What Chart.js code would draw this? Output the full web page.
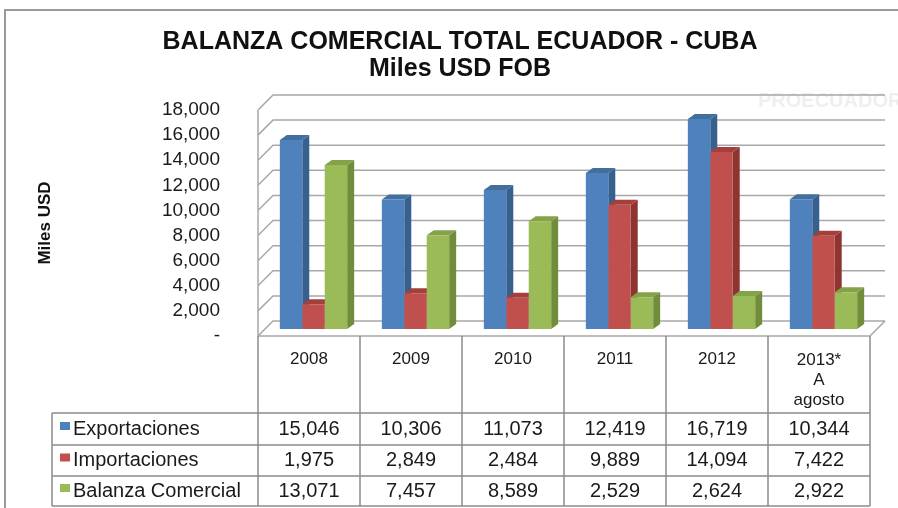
<!DOCTYPE html>
<html lang="es">
<head>
    <meta charset="UTF-8">
    <meta name="viewport" content="width=device-width, initial-scale=1.0">
    <script src="https://cdn.jsdelivr.net/npm/chart.js"></script>
    <title>Balanza comercial Ecuador - Cuba</title>
    <style>
        body { margin: 0; background: white; }
        #grafico { display: block; }
    </style>
</head>
<body>
    <canvas id="grafico" width="898" height="508"></canvas>
</body>
</html>
<script>
    // datos
    const anios = ['2008', '2009', '2010', '2011', '2012', ['2013*', 'A', 'agosto']];
    const exportaciones = [15046, 10306, 11073, 12419, 16719, 10344];
    const importaciones = [1975, 2849, 2484, 9889, 14094, 7422];
    const balanza = [13071, 7457, 8589, 2529, 2624, 2922];
    const nombres = ['Exportaciones', 'Importaciones', 'Balanza Comercial'];
    const yMax = 18000;
    const yPaso = 2000;

    const colores = ['#4F81BD', '#C0504D', '#9BBB59'];
    const lados = ['#37608F', '#8E3532', '#718C3A'];
    const techos = ['#41709F', '#A43F3C', '#84A349'];
    const fuente = "'Liberation Sans', Arial, sans-serif";

    function miles(v) {
        return String(v).replace(/\B(?=(\d{3})+(?!\d))/g, ',');
    }

    // profundidad del piso/pared y de las barras
    const fondo = { dx: 15, dy: -15 };
    const barra = { dx: 4.5, dy: -7, px: 7, py: -5 };

    const efecto3d = {
        id: 'efecto3d',
        beforeDraw(chart) {
            const ctx = chart.ctx;
            ctx.save();
            ctx.strokeStyle = '#9a9a9a';
            ctx.lineWidth = 2;
            ctx.beginPath();
            ctx.moveTo(5, 508);
            ctx.lineTo(5, 10);
            ctx.lineTo(898, 10);
            ctx.stroke();
            // marca de agua
            ctx.fillStyle = '#efefef';
            ctx.font = "bold 20px " + fuente;
            ctx.textBaseline = 'middle';
            ctx.fillText('PROECUADOR', 758, 101);
            ctx.restore();
        },
        beforeDatasetsDraw(chart) {
            const ctx = chart.ctx;
            const a = chart.chartArea;
            const y = chart.scales.y;
            ctx.save();
            ctx.strokeStyle = '#a8a8a8';
            ctx.lineWidth = 1.5;
            ctx.beginPath();
            for (let v = 0; v <= yMax; v += yPaso) {
                const py = y.getPixelForValue(v);
                ctx.moveTo(a.left, py);
                ctx.lineTo(a.left + fondo.dx, py + fondo.dy);
                ctx.lineTo(a.right + fondo.dx, py + fondo.dy);
            }
            ctx.moveTo(a.left, y.getPixelForValue(yMax));
            ctx.lineTo(a.left, y.getPixelForValue(0));
            ctx.lineTo(a.right, y.getPixelForValue(0));
            ctx.lineTo(a.right + fondo.dx, y.getPixelForValue(0) + fondo.dy);
            ctx.stroke();
            ctx.restore();

            // caras laterales y superiores de las barras
            ctx.save();
            ctx.translate(barra.dx, barra.dy);
            chart.data.datasets.forEach((ds, i) => {
                chart.getDatasetMeta(i).data.forEach(b => {
                    const x0 = b.x - b.width / 2;
                    const x1 = b.x + b.width / 2;
                    ctx.fillStyle = lados[i];
                    ctx.beginPath();
                    ctx.moveTo(x1, b.y);
                    ctx.lineTo(x1 + barra.px, b.y + barra.py);
                    ctx.lineTo(x1 + barra.px, b.base + barra.py);
                    ctx.lineTo(x1, b.base);
                    ctx.closePath();
                    ctx.fill();
                    ctx.fillStyle = techos[i];
                    ctx.beginPath();
                    ctx.moveTo(x0, b.y);
                    ctx.lineTo(x1, b.y);
                    ctx.lineTo(x1 + barra.px, b.y + barra.py);
                    ctx.lineTo(x0 + barra.px, b.y + barra.py);
                    ctx.closePath();
                    ctx.fill();
                });
            });
            // las caras frontales se dibujan con este mismo desplazamiento
        },
        afterDatasetsDraw(chart) {
            chart.ctx.restore();
        },
        afterDraw(chart) {
            // tabla de datos
            const ctx = chart.ctx;
            const a = chart.chartArea;
            const x = chart.scales.x;
            const ancho = (a.right - a.left) / anios.length;
            const filas = [413, 445, 476, 506];
            const series = [exportaciones, importaciones, balanza];
            ctx.save();
            ctx.strokeStyle = '#8c8c8c';
            ctx.lineWidth = 1.5;
            ctx.beginPath();
            for (let i = 0; i <= anios.length; i++) {
                const px = a.left + i * ancho;
                ctx.moveTo(px, a.bottom);
                ctx.lineTo(px, filas[3]);
            }
            filas.forEach(f => {
                ctx.moveTo(52, f);
                ctx.lineTo(a.right, f);
            });
            ctx.moveTo(52, filas[0]);
            ctx.lineTo(52, filas[3]);
            ctx.stroke();

            ctx.fillStyle = '#1a1a1a';
            ctx.textAlign = 'center';
            ctx.textBaseline = 'middle';
            ctx.font = "17px " + fuente;
            anios.forEach((lab, i) => {
                const px = x.getPixelForValue(i);
                if (Array.isArray(lab)) {
                    lab.forEach((t, j) => ctx.fillText(t, px, 360 + j * 20));
                } else {
                    ctx.fillText(lab, px, 359);
                }
            });
            ctx.font = "20px " + fuente;
            series.forEach((s, k) => {
                const py = (filas[k] + filas[k + 1]) / 2;
                s.forEach((v, i) => ctx.fillText(miles(v), x.getPixelForValue(i), py));
                ctx.fillStyle = colores[k];
                ctx.fillRect(60, py - 7, 10, 8);
                ctx.fillStyle = '#1a1a1a';
                ctx.textAlign = 'left';
                ctx.fillText(nombres[k], 73, py);
                ctx.textAlign = 'center';
            });
            ctx.restore();
        }
    };

    const ctx1 = document.getElementById('grafico').getContext('2d');
    const grafico = new Chart(ctx1, {
        type: 'bar',
        data: {
            labels: anios,
            datasets: [{
                label: nombres[0],
                data: exportaciones,
                backgroundColor: colores[0]
            }, {
                label: nombres[1],
                data: importaciones,
                backgroundColor: colores[1]
            }, {
                label: nombres[2],
                data: balanza,
                backgroundColor: colores[2]
            }]
        },
        options: {
            responsive: false,
            animation: false,
            devicePixelRatio: 1,
            categoryPercentage: 0.66,
            barPercentage: 1,
            layout: {
                padding: { left: 50, right: 28, top: 10, bottom: 172 }
            },
            plugins: {
                legend: { display: false },
                tooltip: { enabled: false },
                title: {
                    display: true,
                    text: ['BALANZA COMERCIAL TOTAL ECUADOR - CUBA', 'Miles USD FOB'],
                    color: '#111',
                    font: { family: fuente, size: 25, weight: 'bold', lineHeight: 1.08 },
                    padding: { top: 18.5, bottom: 27.5 }
                }
            },
            scales: {
                x: {
                    display: false
                },
                y: {
                    min: 0,
                    max: yMax,
                    grid: { display: false },
                    border: { display: false },
                    ticks: {
                        stepSize: yPaso,
                        autoSkip: false,
                        padding: 30,
                        color: '#1a1a1a',
                        font: { family: fuente, size: 19 },
                        callback: v => v === 0 ? '-' : miles(v)
                    },
                    title: {
                        display: true,
                        text: 'Miles USD',
                        color: '#111',
                        font: { family: fuente, size: 17, weight: 'bold' },
                        padding: { top: -15 }
                    },
                    afterFit: s => { s.width = 208; }
                }
            }
        },
        plugins: [efecto3d]
    });
</script>
